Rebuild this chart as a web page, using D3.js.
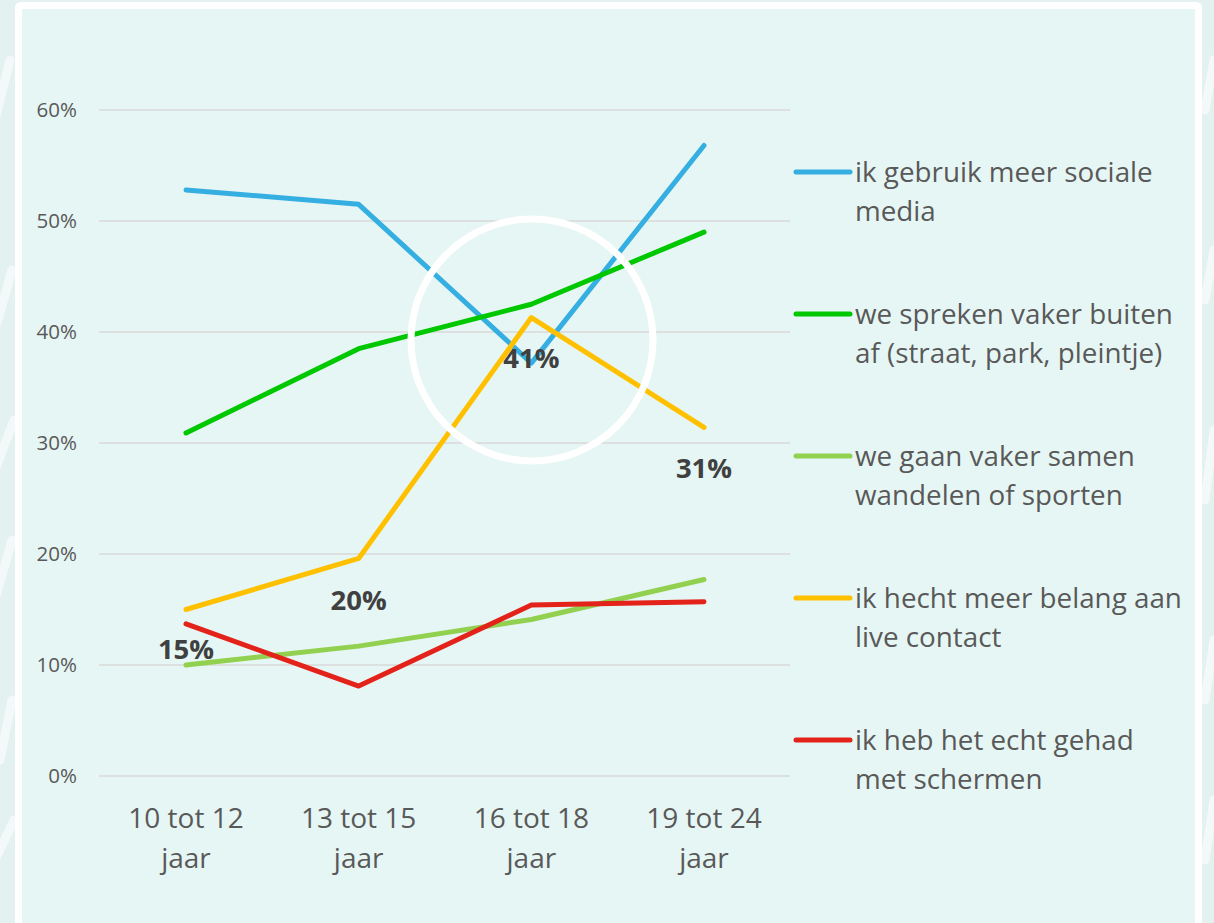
<!DOCTYPE html>
<html><head><meta charset="utf-8">
<script src="https://cdn.jsdelivr.net/npm/d3@7"></script>
<style>html,body{margin:0;padding:0;background:#e3f1f0;overflow:hidden}</style>
</head><body>
<svg id="chart" width="1214" height="923"></svg>
<script>
const categories = [["10 tot 12","jaar"],["13 tot 15","jaar"],["16 tot 18","jaar"],["19 tot 24","jaar"]];
const yTicks = [0, 0.1, 0.2, 0.3, 0.4, 0.5, 0.6];
const socialeMedia = [0.528, 0.515, 0.372, 0.568];
const buitenAf = [0.309, 0.385, 0.425, 0.490];
const wandelen = [0.100, 0.117, 0.141, 0.177];
const liveContact = [0.150, 0.196, 0.413, 0.314];
const schermen = [0.137, 0.081, 0.154, 0.157];
const seriesNames = [["ik gebruik meer sociale","media"],["we spreken vaker buiten","af (straat, park, pleintje)"],["we gaan vaker samen","wandelen of sporten"],["ik hecht meer belang aan","live contact"],["ik heb het echt gehad","met schermen"]];
const seriesColors = ["#35aee2","#00c800","#92d050","#ffc000","#e3231a"];
const seriesValues = [socialeMedia, buitenAf, wandelen, liveContact, schermen];
const dataLabels = [{s:3,i:0,text:"15%"},{s:3,i:1,text:"20%"},{s:3,i:2,text:"41%"},{s:3,i:3,text:"31%"}];

const svg = d3.select("#chart");
const font = "'Open Sans', sans-serif";

// outer decorative strokes
const deco = svg.append("g").attr("fill","none").attr("stroke","#ffffff").attr("stroke-opacity",0.55).attr("stroke-width",9).attr("stroke-linecap","round");
[[[-5,120],[10,60]],[[-5,330],[12,270]],[[-5,470],[14,420]],[[-5,600],[12,540]],[[0,760],[12,700]],[[-5,860],[14,820]],
 [[1214,60],[1205,110]],[[1214,250],[1205,300]],[[1214,430],[1205,500]],[[1214,640],[1205,700]],[[1214,800],[1205,860]]].forEach(p=>{
  deco.append("path").attr("d", d3.line()(p));
});

// frame
svg.append("rect").attr("x",18.5).attr("y",5.5).attr("width",1180).attr("height",930).attr("fill","#e6f6f4").attr("stroke","#ffffff").attr("stroke-width",7).attr("rx",2);

const x = d3.scalePoint().domain(d3.range(categories.length)).range([186, 704]);
const y = d3.scaleLinear().domain([0, 0.6]).range([776, 110]);
const gridX0 = 99, gridX1 = 790;

// gridlines
svg.append("g").selectAll("line").data(yTicks).join("line")
  .attr("x1",gridX0).attr("x2",gridX1).attr("y1",d=>y(d)).attr("y2",d=>y(d))
  .attr("stroke","#d9d9d9").attr("stroke-width",1.5);

// y tick labels
svg.append("g").selectAll("text").data(yTicks).join("text")
  .attr("x",77).attr("y",d=>y(d)).attr("dy","0.35em").attr("text-anchor","end")
  .attr("font-family",font).attr("font-size",20.5).attr("fill","#595959")
  .text(d=>d3.format(".0%")(d));

// x category labels
const cat = svg.append("g").selectAll("text").data(categories).join("text")
  .attr("text-anchor","middle").attr("font-family",font).attr("font-size",28).attr("fill","#595959");
cat.append("tspan").attr("x",(d,i)=>x(i)).attr("y",828).text(d=>d[0]);
cat.append("tspan").attr("x",(d,i)=>x(i)).attr("y",868).text(d=>d[1]);

// lines
const line = d3.line().x((d,i)=>x(i)).y(d=>y(d));
svg.append("g").selectAll("path").data(seriesValues).join("path")
  .attr("d",line).attr("fill","none").attr("stroke",(d,i)=>seriesColors[i])
  .attr("stroke-width",5).attr("stroke-linecap","round").attr("stroke-linejoin","round");

// white circle highlight
svg.append("circle").attr("cx",532).attr("cy",340).attr("r",121).attr("fill","none").attr("stroke","#ffffff").attr("stroke-width",7);

// data labels
const labelPos = [[0,649],[1,600],[2,358],[3,468]];
svg.append("g").selectAll("text").data(dataLabels).join("text")
  .attr("x",(d,k)=>x(d.i)).attr("y",(d,k)=>labelPos[k][1]).attr("dy","0.35em")
  .attr("text-anchor","middle").attr("font-family",font).attr("font-weight","bold")
  .attr("font-size",27.5).attr("fill","#404040").text(d=>d.text);

// legend
const leg = svg.append("g").selectAll("g").data(seriesNames).join("g")
  .attr("transform",(d,i)=>`translate(0,${172 + i*142})`);
leg.append("line").attr("x1",796).attr("x2",850).attr("y1",0).attr("y2",0)
  .attr("stroke",(d,i)=>seriesColors[i]).attr("stroke-width",5).attr("stroke-linecap","round");
const lt = leg.append("text").attr("font-family",font).attr("font-size",27.8).attr("fill","#595959");
lt.append("tspan").attr("x",855).attr("y",0).attr("dy","0.35em").text(d=>d[0]);
lt.append("tspan").attr("x",855).attr("y",39).attr("dy","0.35em").text(d=>d[1]);
</script>
</body></html>
